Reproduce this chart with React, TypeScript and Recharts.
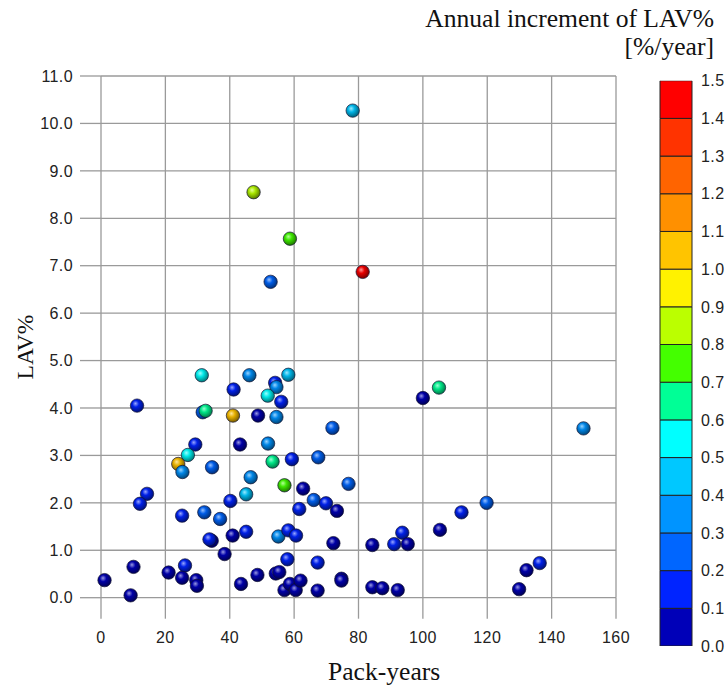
import { ScatterChart, Scatter, XAxis, YAxis, CartesianGrid, BarChart, Bar } from "recharts"

// Pack-years (x), LAV% (y) and annual increment of LAV% (colour) per subject
const packYears = [
  78.2, 47.4, 58.7, 52.7, 81.3,
  31.3, 46.1, 58.2, 41.2, 54.1, 54.5, 51.8, 56.0, 11.2, 31.6,
  32.5, 41.0, 48.8, 54.5, 71.9, 29.3, 43.2, 51.9, 27.0, 24.0,
  25.3, 34.5, 53.3, 59.3, 67.5, 46.5, 57.0, 62.8, 76.9, 14.3,
  12.1, 45.1, 40.2, 66.1, 69.9, 73.3, 61.6, 25.2, 32.1, 37.0,
  40.9, 45.1, 34.4, 33.7, 55.1, 58.2, 60.6, 72.2, 38.4, 57.9,
  67.3, 10.1, 26.1, 21.0, 25.2, 29.6, 29.8, 1.1, 9.2, 43.5,
  48.6, 54.3, 55.4, 57.0, 58.7, 60.5, 62.0, 67.3, 74.7, 74.7,
  100.0, 105.0, 149.9, 119.8, 112.0, 105.3, 93.6, 91.1, 95.3, 84.3,
  84.3, 87.4, 92.2, 129.9, 132.2, 136.3,
]
const lavPercent = [
  10.27, 8.55, 7.57, 6.66, 6.87,
  4.69, 4.69, 4.7, 4.39, 4.53, 4.44, 4.26, 4.13, 4.05, 3.91,
  3.94, 3.84, 3.84, 3.81, 3.58, 3.23, 3.23, 3.25, 3.01, 2.82,
  2.65, 2.75, 2.87, 2.92, 2.96, 2.54, 2.37, 2.3, 2.4, 2.19,
  1.98, 2.18, 2.04, 2.06, 1.99, 1.83, 1.87, 1.73, 1.8, 1.66,
  1.31, 1.39, 1.2, 1.23, 1.29, 1.42, 1.31, 1.15, 0.92, 0.81,
  0.74, 0.65, 0.68, 0.53, 0.42, 0.37, 0.25, 0.37, 0.05, 0.29,
  0.48, 0.51, 0.54, 0.16, 0.29, 0.16, 0.36, 0.15, 0.4, 0.36,
  4.21, 4.43, 3.57, 2.0, 1.8, 1.43, 1.37, 1.13, 1.13, 1.11,
  0.22, 0.2, 0.16, 0.18, 0.58, 0.73,
]
const annualIncrement = [
  0.45, 0.85, 0.75, 0.25, 1.45,
  0.55, 0.35, 0.45, 0.15, 0.15, 0.35, 0.55, 0.15, 0.15, 0.25,
  0.65, 1.05, 0.05, 0.35, 0.25, 0.15, 0.05, 0.35, 0.55, 1.05,
  0.35, 0.25, 0.65, 0.15, 0.25, 0.35, 0.75, 0.05, 0.25, 0.15,
  0.15, 0.45, 0.15, 0.25, 0.15, 0.05, 0.15, 0.15, 0.25, 0.25,
  0.05, 0.15, 0.05, 0.15, 0.35, 0.15, 0.15, 0.05, 0.05, 0.15,
  0.15, 0.05, 0.15, 0.05, 0.05, 0.05, 0.05, 0.05, 0.05, 0.05,
  0.05, 0.05, 0.05, 0.05, 0.05, 0.05, 0.05, 0.05, 0.05, 0.05,
  0.05, 0.65, 0.35, 0.25, 0.15, 0.05, 0.15, 0.15, 0.05, 0.05,
  0.05, 0.05, 0.05, 0.05, 0.05, 0.15,
]

const xTicks = [0, 20, 40, 60, 80, 100, 120, 140, 160]
const yTicks = [0, 1, 2, 3, 4, 5, 6, 7, 8, 9, 10, 11]
const barTicks = [0, 0.1, 0.2, 0.3, 0.4, 0.5, 0.6, 0.7, 0.8, 0.9, 1.0, 1.1, 1.2, 1.3, 1.4, 1.5]

// colour scale bins, 0.0-0.1 up to 1.4-1.5
const binColors = [
  "#0000b8", "#0024ff", "#0066ff", "#0094ff", "#00c8ff",
  "#00ffff", "#00ff96", "#44ff00", "#bbff00", "#fff200",
  "#ffc400", "#ff9000", "#ff6400", "#ff3300", "#ff0000",
]
const binSize = 0.1

const points = packYears.map((x, i) => ({ x, y: lavPercent[i], inc: annualIncrement[i] }))

const barRow: Record<string, number | string> = { name: "scale" }
binColors.forEach((_, i) => {
  barRow[`b${i}`] = binSize
})

const colorFor = (v: number) => binColors[Math.min(binColors.length - 1, Math.floor(v / binSize))]

const mix = (hex: string, target: number, t: number) => {
  const n = parseInt(hex.slice(1), 16)
  const ch = [(n >> 16) & 255, (n >> 8) & 255, n & 255].map((c) => Math.round(c + (target - c) * t))
  return `rgb(${ch[0]},${ch[1]},${ch[2]})`
}

const Ball = (props: any) => {
  const { cx, cy, payload, index } = props
  if (cx == null || cy == null) return null
  const c = colorFor(payload.inc)
  const id = `ball-${index}`
  return (
    <g>
      <defs>
        <radialGradient id={id} cx="42%" cy="40%" r="62%" fx="38%" fy="34%">
          <stop offset="0%" stopColor={mix(c, 255, 0.6)} />
          <stop offset="40%" stopColor={mix(c, 0, 0.1)} />
          <stop offset="100%" stopColor={mix(c, 0, 0.55)} />
        </radialGradient>
      </defs>
      <circle cx={cx} cy={cy} r={6.7} fill={`url(#${id})`} stroke="#101030" strokeOpacity={0.75} strokeWidth={0.9} />
    </g>
  )
}

const tickStyle = { fill: "#222", fontSize: 16, letterSpacing: 0.4, fontFamily: "'Liberation Sans', Arial, sans-serif" }
const serif = "'Liberation Serif', 'Times New Roman', serif"

export default function App() {
  return (
    <div style={{ position: "absolute", left: 0, top: 0, width: 727, height: 687, background: "#fff" }}>
      <div style={{ position: "absolute", left: 0, top: 0 }}>
        <ScatterChart width={727} height={687} margin={{ top: 76, right: 111, bottom: 0, left: 0 }}>
          <CartesianGrid stroke="#9a9a9a" strokeWidth={1.3} />
          <XAxis
            type="number"
            dataKey="x"
            domain={[0, 160]}
            ticks={xTicks}
            interval={0}
            height={89.3}
            axisLine={false}
            tickLine={{ stroke: "#9a9a9a", strokeWidth: 1.3 }}
            tickSize={21}
            tickMargin={13}
            tick={tickStyle}
          />
          <YAxis
            type="number"
            dataKey="y"
            domain={[0, 11]}
            ticks={yTicks}
            interval={0}
            width={101}
            axisLine={false}
            tickLine={{ stroke: "#9a9a9a", strokeWidth: 1.3 }}
            tickSize={21}
            tickMargin={7}
            tick={tickStyle}
            tickFormatter={(v: number) => v.toFixed(1)}
          />
          <Scatter data={points} shape={Ball} isAnimationActive={false} />
        </ScatterChart>
      </div>
      <div style={{ position: "absolute", left: 0, top: 0 }}>
        <BarChart width={727} height={687} data={[barRow]} barCategoryGap={0} margin={{ top: 80.7, right: 0, bottom: 41, left: 660 }}>
          <XAxis dataKey="name" hide />
          <YAxis
            orientation="right"
            domain={[0, 1.5]}
            ticks={barTicks}
            interval={0}
            width={35}
            allowDataOverflow
            axisLine={false}
            tickLine={false}
            tickSize={0}
            tickMargin={9}
            tick={tickStyle}
            tickFormatter={(v: number) => v.toFixed(1)}
          />
          {binColors.map((c, i) => (
            <Bar key={i} dataKey={`b${i}`} stackId="scale" fill={c} stroke="#222" strokeWidth={1} isAnimationActive={false} />
          ))}
        </BarChart>
      </div>
      <div style={{ position: "absolute", right: 13, top: 6, fontFamily: serif, fontSize: 25.6, lineHeight: 1, color: "#111", whiteSpace: "nowrap" }}>
        Annual increment of LAV%
      </div>
      <div style={{ position: "absolute", right: 13, top: 34, fontFamily: serif, fontSize: 25.6, lineHeight: 1, color: "#111", whiteSpace: "nowrap" }}>
        [%/year]
      </div>
      <div style={{ position: "absolute", left: 328, top: 659, fontFamily: serif, fontSize: 25.6, lineHeight: 1, color: "#111", whiteSpace: "nowrap" }}>
        Pack-years
      </div>
      <div
        style={{
          position: "absolute",
          left: 26,
          top: 347,
          transform: "translate(-50%, -50%) rotate(-90deg)",
          fontFamily: serif,
          fontSize: 23.5,
          lineHeight: 1,
          color: "#111",
          whiteSpace: "nowrap",
        }}
      >
        LAV%
      </div>
    </div>
  )
}
